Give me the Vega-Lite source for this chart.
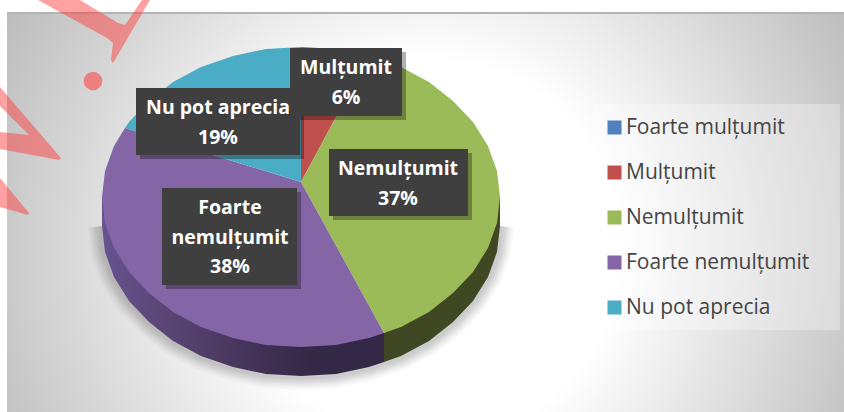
{"$schema":"https://vega.github.io/schema/vega-lite/v6.json","width":844,"height":412,"padding":0,"autosize":{"type":"none"},"background":"#ffffff","config":{"view":{"stroke":null}},
"datasets":{
"card":[{"x":7,"x2":844,"y":14,"y2":412}],
"topline":[{"x":7,"x2":844,"y":13}],
"legendbox":[{"x":594,"x2":840,"y":104,"y2":330}],
"shadow":[{"o":0,"x":500,"y":226},{"o":1,"x":497,"y":252},{"o":2,"x":488,"y":277},{"o":3,"x":473,"y":301},{"o":4,"x":453,"y":322},{"o":5,"x":429,"y":341},{"o":6,"x":401,"y":356},{"o":7,"x":369,"y":367},{"o":8,"x":336,"y":374},{"o":9,"x":301,"y":376},{"o":10,"x":266,"y":374},{"o":11,"x":233,"y":367},{"o":12,"x":201,"y":356},{"o":13,"x":173,"y":341},{"o":14,"x":149,"y":322},{"o":15,"x":129,"y":301},{"o":16,"x":114,"y":277},{"o":17,"x":105,"y":252},{"o":18,"x":102,"y":226}],
"sidePurple":[{"o":0,"x":102,"y":197},{"o":1,"x":102,"y":226},{"o":2,"x":105,"y":252},{"o":3,"x":114,"y":277},{"o":4,"x":129,"y":301},{"o":5,"x":149,"y":322},{"o":6,"x":173,"y":341},{"o":7,"x":201,"y":356},{"o":8,"x":233,"y":367},{"o":9,"x":266,"y":374},{"o":10,"x":301,"y":376},{"o":11,"x":336,"y":374},{"o":12,"x":369,"y":367},{"o":13,"x":384,"y":362},{"o":14,"x":384,"y":333}],
"sideGreen":[{"o":0,"x":384,"y":333},{"o":1,"x":384,"y":362},{"o":2,"x":401,"y":356},{"o":3,"x":429,"y":341},{"o":4,"x":453,"y":322},{"o":5,"x":473,"y":301},{"o":6,"x":488,"y":277},{"o":7,"x":497,"y":252},{"o":8,"x":500,"y":226},{"o":9,"x":500,"y":197}],
"slices":[
{"slice":"Mulțumit","o":0,"x":301,"y":182},{"slice":"Mulțumit","o":1,"x":301,"y":47},{"slice":"Mulțumit","o":2,"x":336,"y":49},{"slice":"Mulțumit","o":3,"x":369,"y":56},
{"slice":"Nemulțumit","o":0,"x":301,"y":182},{"slice":"Nemulțumit","o":1,"x":369,"y":56},{"slice":"Nemulțumit","o":2,"x":401,"y":67},{"slice":"Nemulțumit","o":3,"x":429,"y":82},{"slice":"Nemulțumit","o":4,"x":453,"y":101},{"slice":"Nemulțumit","o":5,"x":473,"y":122},{"slice":"Nemulțumit","o":6,"x":488,"y":146},{"slice":"Nemulțumit","o":7,"x":497,"y":171},{"slice":"Nemulțumit","o":8,"x":500,"y":197},{"slice":"Nemulțumit","o":9,"x":497,"y":223},{"slice":"Nemulțumit","o":10,"x":488,"y":248},{"slice":"Nemulțumit","o":11,"x":473,"y":272},{"slice":"Nemulțumit","o":12,"x":453,"y":293},{"slice":"Nemulțumit","o":13,"x":429,"y":312},{"slice":"Nemulțumit","o":14,"x":401,"y":327},{"slice":"Nemulțumit","o":15,"x":384,"y":333},
{"slice":"Foarte nemulțumit","o":0,"x":301,"y":182},{"slice":"Foarte nemulțumit","o":1,"x":384,"y":333},{"slice":"Foarte nemulțumit","o":2,"x":369,"y":338},{"slice":"Foarte nemulțumit","o":3,"x":336,"y":345},{"slice":"Foarte nemulțumit","o":4,"x":301,"y":347},{"slice":"Foarte nemulțumit","o":5,"x":266,"y":345},{"slice":"Foarte nemulțumit","o":6,"x":233,"y":338},{"slice":"Foarte nemulțumit","o":7,"x":201,"y":327},{"slice":"Foarte nemulțumit","o":8,"x":173,"y":312},{"slice":"Foarte nemulțumit","o":9,"x":149,"y":293},{"slice":"Foarte nemulțumit","o":10,"x":129,"y":272},{"slice":"Foarte nemulțumit","o":11,"x":114,"y":248},{"slice":"Foarte nemulțumit","o":12,"x":105,"y":223},{"slice":"Foarte nemulțumit","o":13,"x":102,"y":197},{"slice":"Foarte nemulțumit","o":14,"x":105,"y":171},{"slice":"Foarte nemulțumit","o":15,"x":114,"y":146},{"slice":"Foarte nemulțumit","o":16,"x":125,"y":128},
{"slice":"Nu pot aprecia","o":0,"x":301,"y":182},{"slice":"Nu pot aprecia","o":1,"x":125,"y":128},{"slice":"Nu pot aprecia","o":2,"x":129,"y":122},{"slice":"Nu pot aprecia","o":3,"x":149,"y":101},{"slice":"Nu pot aprecia","o":4,"x":173,"y":82},{"slice":"Nu pot aprecia","o":5,"x":201,"y":67},{"slice":"Nu pot aprecia","o":6,"x":233,"y":56},{"slice":"Nu pot aprecia","o":7,"x":266,"y":49},{"slice":"Nu pot aprecia","o":8,"x":301,"y":47}
],
"labels":[
{"category":"Nu pot aprecia","pct":19,"text":"Nu pot aprecia\n19%","x":136,"x2":300,"y":88,"y2":155,"cx":218,"cy":108},
{"category":"Mulțumit","pct":6,"text":"Mulțumit\n6%","x":290,"x2":402,"y":48,"y2":116,"cx":346,"cy":68},
{"category":"Nemulțumit","pct":37,"text":"Nemulțumit\n37%","x":329,"x2":468,"y":149,"y2":216,"cx":398,"cy":169},
{"category":"Foarte nemulțumit","pct":38,"text":"Foarte\nnemulțumit\n38%","x":162,"x2":297,"y":188,"y2":285,"cx":230,"cy":208}
],
"warn":[
{"s":"a","o":0,"x":38,"y":0},{"s":"a","o":1,"x":107,"y":38},{"s":"a","o":2,"x":113,"y":43},{"s":"a","o":3,"x":111,"y":60},{"s":"a","o":4,"x":113,"y":63},{"s":"a","o":5,"x":150,"y":0},{"s":"a","o":6,"x":142,"y":0},{"s":"a","o":7,"x":125,"y":25},{"s":"a","o":8,"x":118,"y":23},{"s":"a","o":9,"x":80,"y":0},
{"s":"b","o":0,"x":0,"y":87},{"s":"b","o":1,"x":61,"y":158},{"s":"b","o":2,"x":59,"y":160},{"s":"b","o":3,"x":0,"y":149},{"s":"b","o":4,"x":0,"y":132},{"s":"b","o":5,"x":29,"y":135},{"s":"b","o":6,"x":0,"y":106},
{"s":"c","o":0,"x":0,"y":178},{"s":"c","o":1,"x":29,"y":213},{"s":"c","o":2,"x":28,"y":215},{"s":"c","o":3,"x":0,"y":207}
],
"dot":[{"x":93,"y":81}]
},
"layer":[
{"data":{"name":"card"},"mark":{"type":"rect","fill":{"gradient":"radial","x1":0.505,"y1":0.544,"r1":0,"x2":0.505,"y2":0.544,"r2":0.58,"stops":[{"offset":0,"color":"#ffffff"},{"offset":0.39,"color":"#ffffff"},{"offset":1,"color":"#bcbcbc"}]}},"encoding":{"x":{"field":"x","type":"quantitative","scale":{"domain":[0,844],"nice":false},"axis":null},"x2":{"field":"x2"},"y":{"field":"y","type":"quantitative","scale":{"domain":[412,0],"nice":false},"axis":null},"y2":{"field":"y2"}}},
{"data":{"name":"topline"},"mark":{"type":"rule","stroke":"#b4b4b4","strokeWidth":2},"encoding":{"x":{"field":"x","type":"quantitative","scale":{"domain":[0,844],"nice":false},"axis":null},"x2":{"field":"x2"},"y":{"field":"y","type":"quantitative","scale":{"domain":[412,0],"nice":false},"axis":null}}},
{"data":{"name":"legendbox"},"mark":{"type":"rect","fill":"#ffffff","fillOpacity":0.3},"encoding":{"x":{"field":"x","type":"quantitative","scale":{"domain":[0,844],"nice":false},"axis":null},"x2":{"field":"x2"},"y":{"field":"y","type":"quantitative","scale":{"domain":[412,0],"nice":false},"axis":null},"y2":{"field":"y2"}}},
{"data":{"name":"shadow"},"mark":{"type":"line","stroke":"#000000","strokeWidth":28,"strokeOpacity":0.025,"strokeCap":"butt","strokeJoin":"round"},"encoding":{"x":{"field":"x","type":"quantitative","scale":{"domain":[0,844],"nice":false},"axis":null},"y":{"field":"y","type":"quantitative","scale":{"domain":[412,0],"nice":false},"axis":null},"order":{"field":"o"}}},
{"data":{"name":"shadow"},"mark":{"type":"line","stroke":"#000000","strokeWidth":24,"strokeOpacity":0.03,"strokeCap":"butt","strokeJoin":"round"},"encoding":{"x":{"field":"x","type":"quantitative","scale":{"domain":[0,844],"nice":false},"axis":null},"y":{"field":"y","type":"quantitative","scale":{"domain":[412,0],"nice":false},"axis":null},"order":{"field":"o"}}},
{"data":{"name":"shadow"},"mark":{"type":"line","stroke":"#000000","strokeWidth":20,"strokeOpacity":0.035,"strokeCap":"butt","strokeJoin":"round"},"encoding":{"x":{"field":"x","type":"quantitative","scale":{"domain":[0,844],"nice":false},"axis":null},"y":{"field":"y","type":"quantitative","scale":{"domain":[412,0],"nice":false},"axis":null},"order":{"field":"o"}}},
{"data":{"name":"shadow"},"mark":{"type":"line","stroke":"#000000","strokeWidth":16,"strokeOpacity":0.04,"strokeCap":"butt","strokeJoin":"round"},"encoding":{"x":{"field":"x","type":"quantitative","scale":{"domain":[0,844],"nice":false},"axis":null},"y":{"field":"y","type":"quantitative","scale":{"domain":[412,0],"nice":false},"axis":null},"order":{"field":"o"}}},
{"data":{"name":"shadow"},"mark":{"type":"line","stroke":"#000000","strokeWidth":12,"strokeOpacity":0.04,"strokeCap":"butt","strokeJoin":"round"},"encoding":{"x":{"field":"x","type":"quantitative","scale":{"domain":[0,844],"nice":false},"axis":null},"y":{"field":"y","type":"quantitative","scale":{"domain":[412,0],"nice":false},"axis":null},"order":{"field":"o"}}},
{"data":{"name":"shadow"},"mark":{"type":"line","stroke":"#000000","strokeWidth":8,"strokeOpacity":0.04,"strokeCap":"butt","strokeJoin":"round"},"encoding":{"x":{"field":"x","type":"quantitative","scale":{"domain":[0,844],"nice":false},"axis":null},"y":{"field":"y","type":"quantitative","scale":{"domain":[412,0],"nice":false},"axis":null},"order":{"field":"o"}}},
{"data":{"name":"sidePurple"},"mark":{"type":"line","interpolate":"linear-closed","strokeWidth":0,"fill":{"gradient":"linear","x1":0,"y1":0,"x2":1,"y2":0,"stops":[{"offset":0,"color":"#665390"},{"offset":0.2,"color":"#5c4778"},{"offset":0.5,"color":"#46355a"},{"offset":0.75,"color":"#332845"},{"offset":1,"color":"#332845"}]}},"encoding":{"x":{"field":"x","type":"quantitative","scale":{"domain":[0,844],"nice":false},"axis":null},"y":{"field":"y","type":"quantitative","scale":{"domain":[412,0],"nice":false},"axis":null},"order":{"field":"o"}}},
{"data":{"name":"sideGreen"},"mark":{"type":"line","interpolate":"linear-closed","strokeWidth":0,"fill":"#3f4823"},"encoding":{"x":{"field":"x","type":"quantitative","scale":{"domain":[0,844],"nice":false},"axis":null},"y":{"field":"y","type":"quantitative","scale":{"domain":[412,0],"nice":false},"axis":null},"order":{"field":"o"}}},
{"data":{"name":"slices"},"mark":{"type":"line","interpolate":"linear-closed","strokeWidth":0,"filled":true},"encoding":{"x":{"field":"x","type":"quantitative","scale":{"domain":[0,844],"nice":false},"axis":null},"y":{"field":"y","type":"quantitative","scale":{"domain":[412,0],"nice":false},"axis":null},"order":{"field":"o"},"fill":{"field":"slice","type":"nominal","scale":{"domain":["Foarte mulțumit","Mulțumit","Nemulțumit","Foarte nemulțumit","Nu pot aprecia"],"range":["#4f81bd","#c0504d","#9bbb59","#8465a5","#4bacc6"]},"legend":{"title":null,"orient":"none","legendX":594,"legendY":107,"padding":10,"symbolType":"square","symbolSize":196,"symbolStrokeWidth":0,"symbolOpacity":1,"labelFont":"Open Sans","labelFontSize":21,"labelColor":"#444444","labelOffset":1,"labelLimit":230,"rowPadding":23}}}},
{"data":{"name":"labels"},"mark":{"type":"rect","fill":"#000000","fillOpacity":0.3,"xOffset":4,"x2Offset":4,"yOffset":4,"y2Offset":4},"encoding":{"x":{"field":"x","type":"quantitative","scale":{"domain":[0,844],"nice":false},"axis":null},"x2":{"field":"x2"},"y":{"field":"y","type":"quantitative","scale":{"domain":[412,0],"nice":false},"axis":null},"y2":{"field":"y2"}}},
{"data":{"name":"labels"},"mark":{"type":"rect","fill":"#3f3f3f"},"encoding":{"x":{"field":"x","type":"quantitative","scale":{"domain":[0,844],"nice":false},"axis":null},"x2":{"field":"x2"},"y":{"field":"y","type":"quantitative","scale":{"domain":[412,0],"nice":false},"axis":null},"y2":{"field":"y2"}}},
{"data":{"name":"labels"},"mark":{"type":"text","font":"Open Sans","fontWeight":700,"fontSize":19.5,"color":"#ffffff","lineBreak":"\n","lineHeight":29.5,"align":"center","baseline":"middle"},"encoding":{"x":{"field":"cx","type":"quantitative","scale":{"domain":[0,844],"nice":false},"axis":null},"y":{"field":"cy","type":"quantitative","scale":{"domain":[412,0],"nice":false},"axis":null},"text":{"field":"text"}}},
{"data":{"name":"warn"},"mark":{"type":"line","interpolate":"linear-closed","strokeWidth":0,"fill":"#ff3b3b","fillOpacity":0.48},"encoding":{"x":{"field":"x","type":"quantitative","scale":{"domain":[0,844],"nice":false},"axis":null},"y":{"field":"y","type":"quantitative","scale":{"domain":[412,0],"nice":false},"axis":null},"order":{"field":"o"},"detail":{"field":"s"}}},
{"data":{"name":"dot"},"mark":{"type":"circle","size":346,"fill":"#ff3b3b","opacity":0.55},"encoding":{"x":{"field":"x","type":"quantitative","scale":{"domain":[0,844],"nice":false},"axis":null},"y":{"field":"y","type":"quantitative","scale":{"domain":[412,0],"nice":false},"axis":null}}}
]}
